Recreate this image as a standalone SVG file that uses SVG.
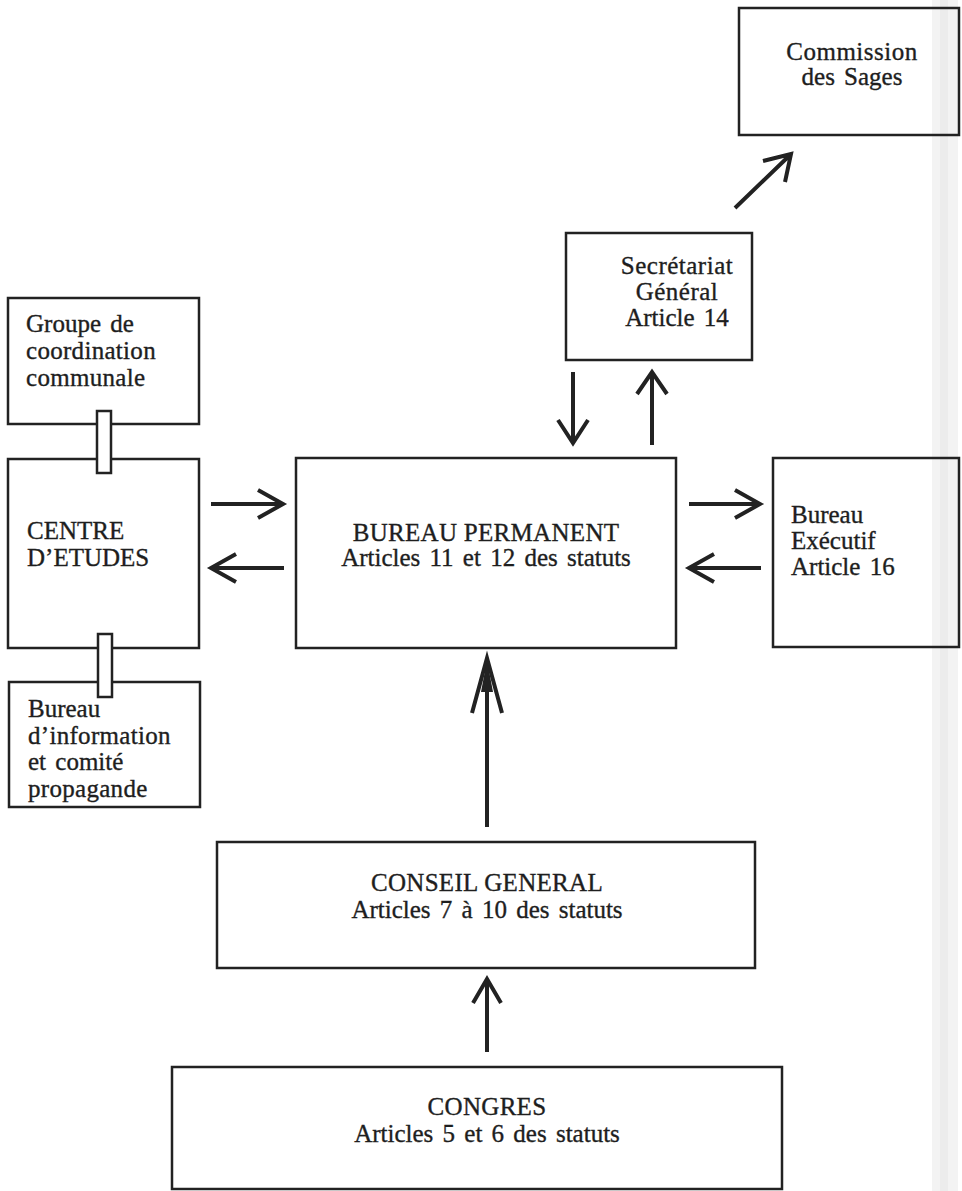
<svg xmlns="http://www.w3.org/2000/svg" width="962" height="1191" viewBox="0 0 962 1191">
<style>
.box{fill:none;stroke:#222;stroke-width:2.5}
.lnk{fill:#fff;stroke:#222;stroke-width:2.5}
.t{font-family:"Liberation Serif","Times New Roman",serif;font-size:25px;fill:#1e1e1e;stroke:#1e1e1e;stroke-width:0.35}
.c{text-anchor:middle}
.a{fill:none;stroke:#222;stroke-width:4;stroke-linecap:butt;stroke-linejoin:miter}
</style>
<rect x="0" y="0" width="962" height="1191" fill="#fff"/>
<rect x="932" y="0" width="26" height="1191" fill="#f3f3f3"/>
<rect x="940" y="0" width="8" height="1191" fill="#ececec"/>

<g id="commission">
<rect class="box" x="739" y="8" width="220" height="127"/>
<text class="t c" x="852" y="60" letter-spacing="0.5">Commission</text>
<text class="t c" x="852" y="85" word-spacing="3">des Sages</text>
</g>
<g id="secretariat">
<rect class="box" x="566" y="233" width="186" height="127"/>
<text class="t c" x="677" y="274" letter-spacing="0.5">Secrétariat</text>
<text class="t c" x="677" y="300" letter-spacing="0.5">Général</text>
<text class="t c" x="677" y="326" word-spacing="3">Article 14</text>
</g>
<g id="groupe">
<rect class="box" x="8" y="298" width="191" height="126"/>
<text class="t" x="26" y="332" word-spacing="3">Groupe de</text>
<text class="t" x="26" y="359" letter-spacing="0.3">coordination</text>
<text class="t" x="26" y="386" letter-spacing="0.3">communale</text>
</g>
<g id="centre">
<rect class="box" x="8" y="459" width="191" height="189"/>
<text class="t" x="27" y="539">CENTRE</text>
<text class="t" x="27" y="566">D’ETUDES</text>
</g>
<g id="bureau-permanent">
<rect class="box" x="296" y="458" width="380" height="190"/>
<text class="t c" x="486" y="541" letter-spacing="0.3">BUREAU PERMANENT</text>
<text class="t c" x="486" y="566" word-spacing="3">Articles 11 et 12 des statuts</text>
</g>
<g id="bureau-executif">
<rect class="box" x="773" y="458" width="186" height="189"/>
<text class="t" x="791" y="523">Bureau</text>
<text class="t" x="791" y="549">Exécutif</text>
<text class="t" x="791" y="575" word-spacing="3">Article 16</text>
</g>
<g id="bureau-information">
<rect class="box" x="9" y="682" width="191" height="125"/>
<text class="t" x="28" y="717">Bureau</text>
<text class="t" x="28" y="744" letter-spacing="0.3">d’information</text>
<text class="t" x="28" y="770" word-spacing="3">et comité</text>
<text class="t" x="28" y="797" letter-spacing="0.3">propagande</text>
</g>
<g id="conseil-general">
<rect class="box" x="217" y="842" width="538" height="126"/>
<text class="t c" x="487" y="891" letter-spacing="0.3">CONSEIL GENERAL</text>
<text class="t c" x="487" y="918" word-spacing="3">Articles 7 à 10 des statuts</text>
</g>
<g id="congres">
<rect class="box" x="172" y="1067" width="610" height="122"/>
<text class="t c" x="487" y="1115" letter-spacing="0.3">CONGRES</text>
<text class="t c" x="487" y="1142" word-spacing="3">Articles 5 et 6 des statuts</text>
</g>

<g id="connectors">
<rect class="lnk" x="97" y="411" width="14" height="62"/>
<rect class="lnk" x="98" y="634" width="14" height="63"/>
<path class="a" d="M211,504 H282 M258,490 L283,504 L258,518"/>
<path class="a" d="M284,568 H212 M236,554 L211,568 L236,582"/>
<path class="a" d="M689,504 H759 M735,490 L760,504 L735,518"/>
<path class="a" d="M761,568 H690 M714,554 L689,568 L714,582"/>
<path class="a" d="M573,372 V442 M558,420 L573,443 L588,420"/>
<path class="a" d="M652,445 V373 M637,394 L652,372 L667,394"/>
<path class="a" d="M735,208 L789,156 M763,161 L791,154 L785,182"/>
<path class="a" stroke-width="5" d="M487,827 V662 M472,713 L487,658 L502,713"/>
<path d="M481,692 L487,660 L493,692 Z" fill="#222"/>
<path class="a" d="M487,1052 V981 M473,1003 L487,979 L501,1003"/>
</g>
</svg>
